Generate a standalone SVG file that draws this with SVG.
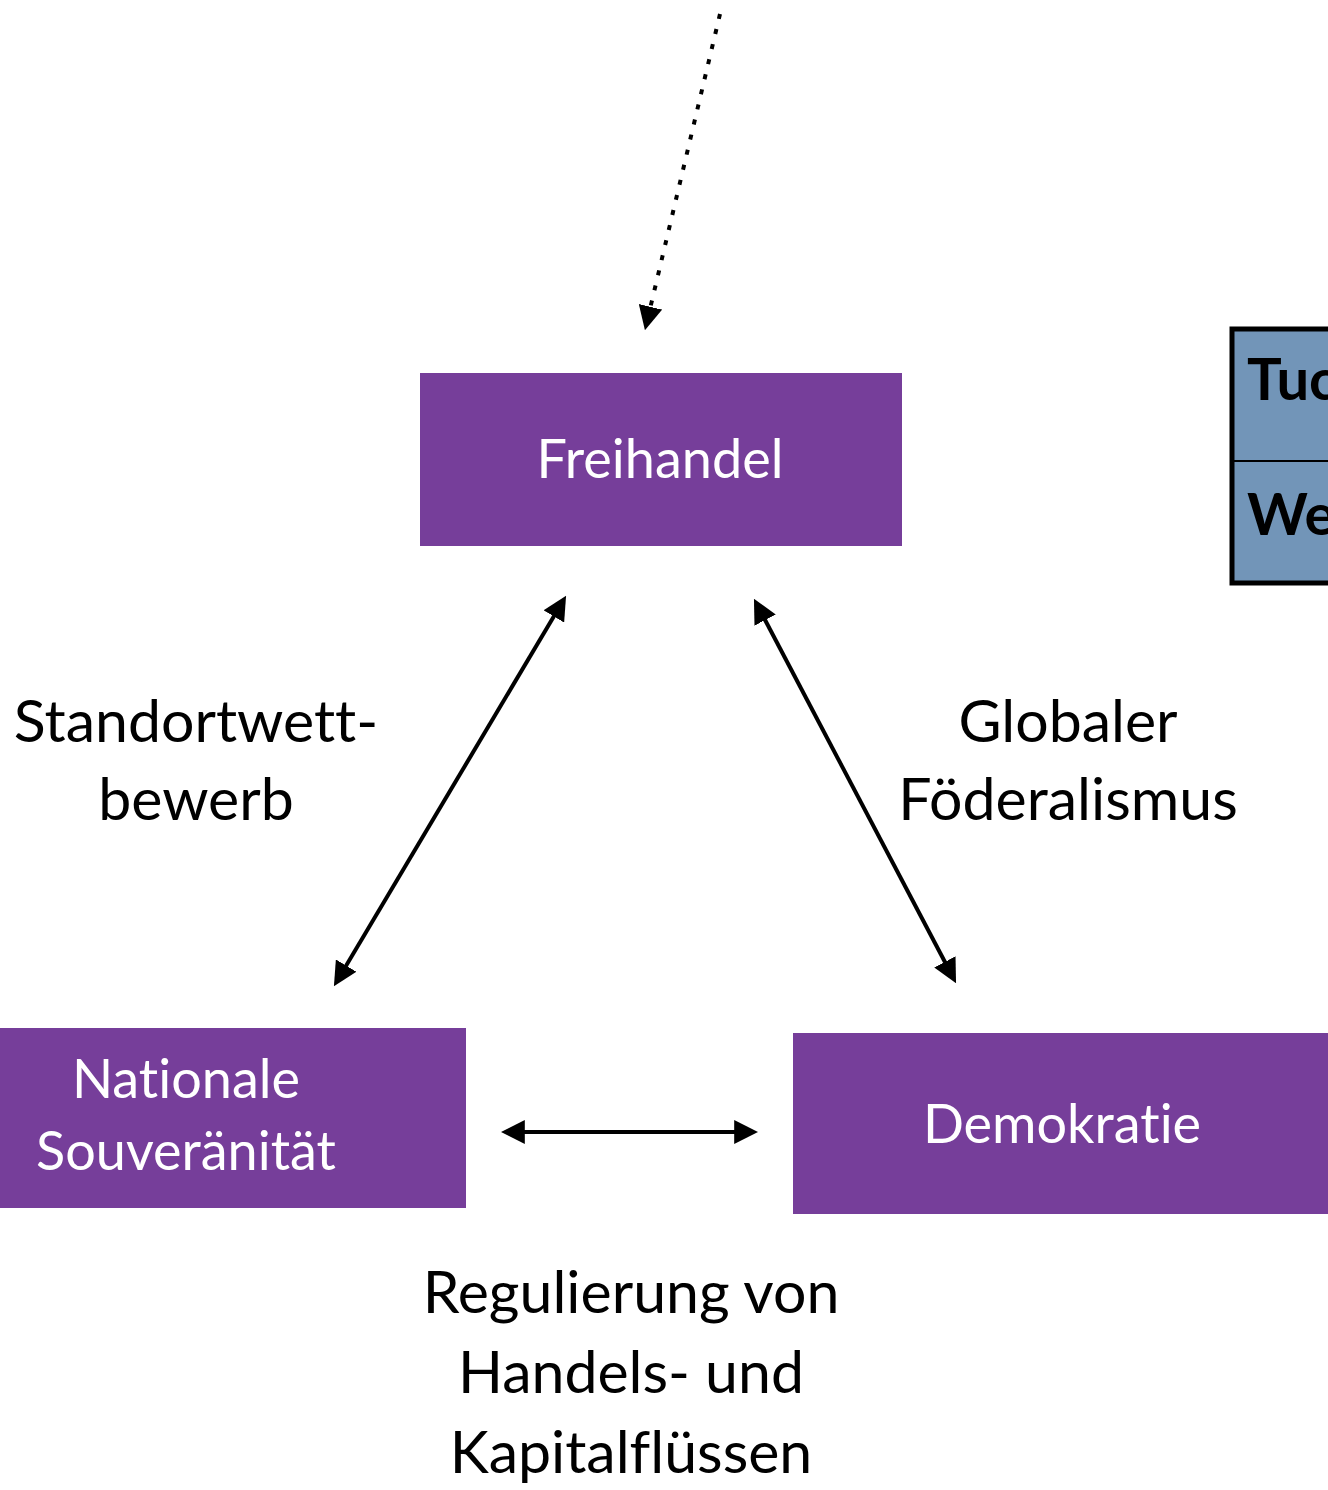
<svg xmlns="http://www.w3.org/2000/svg" width="1328" height="1490" viewBox="0 0 1328 1490">
<style>
.box{fill:#763e9a}
.wt{font-family:Lato,"Noto Sans",sans-serif;font-size:54px;fill:#ffffff;text-anchor:middle;font-variant-ligatures:none}
.lb{font-family:Lato,"Noto Sans",sans-serif;font-size:59px;fill:#000000;text-anchor:middle;font-variant-ligatures:none}
.tb{font-family:Lato,"Noto Sans",sans-serif;font-size:58px;font-weight:bold;fill:#000000}
.ln{stroke:#000;stroke-width:4;fill:none}
</style>
<defs>
<marker id="ah" viewBox="0 0 10 10" refX="7" refY="5" markerWidth="6" markerHeight="6" orient="auto-start-reverse" markerUnits="strokeWidth">
<path d="M0,0 L10,5 L0,10 z" fill="#000"/>
</marker>
</defs>
<rect width="1328" height="1490" fill="#fff"/>
<g id="connectors">
<line class="ln" x1="720" y1="14" x2="646.6" y2="323.2" stroke-width="4.5" stroke-dasharray="5 10.5" marker-end="url(#ah)"/>
<line class="ln" x1="562.4" y1="602" x2="337.6" y2="980" marker-start="url(#ah)" marker-end="url(#ah)"/>
<line class="ln" x1="757.3" y1="605.2" x2="952.7" y2="976.8" marker-start="url(#ah)" marker-end="url(#ah)"/>
<line class="ln" x1="508" y1="1132" x2="751" y2="1132" marker-start="url(#ah)" marker-end="url(#ah)"/>
</g>
<g id="freihandel">
<rect class="box" x="420" y="373" width="482" height="173"/>
<text class="wt" x="660" y="478">Freihandel</text>
</g>
<g id="nationale">
<rect class="box" x="0" y="1028" width="466" height="180"/>
<text class="wt" x="186" y="1098">Nationale</text>
<text class="wt" x="186" y="1170">Souveränität</text>
</g>
<g id="demokratie">
<rect class="box" x="793" y="1033" width="535" height="181"/>
<text class="wt" x="1062" y="1143">Demokratie</text>
</g>
<g id="table">
<rect x="1232" y="329" width="110" height="254" fill="#7295b8" stroke="#000" stroke-width="5"/>
<line x1="1232" y1="461" x2="1328" y2="461" stroke="#000" stroke-width="2"/>
<text class="tb" x="1247" y="400">Tuc</text>
<text class="tb" x="1247" y="535">We</text>
</g>
<g id="labels">
<text class="lb" x="196" y="742">Standortwett-</text>
<text class="lb" x="196" y="820">bewerb</text>
<text class="lb" x="1068" y="742">Globaler</text>
<text class="lb" x="1068" y="820">Föderalismus</text>
<text class="lb" x="631" y="1313">Regulierung von</text>
<text class="lb" x="631" y="1393">Handels- und</text>
<text class="lb" x="631" y="1473">Kapitalflüssen</text>
</g>
</svg>
